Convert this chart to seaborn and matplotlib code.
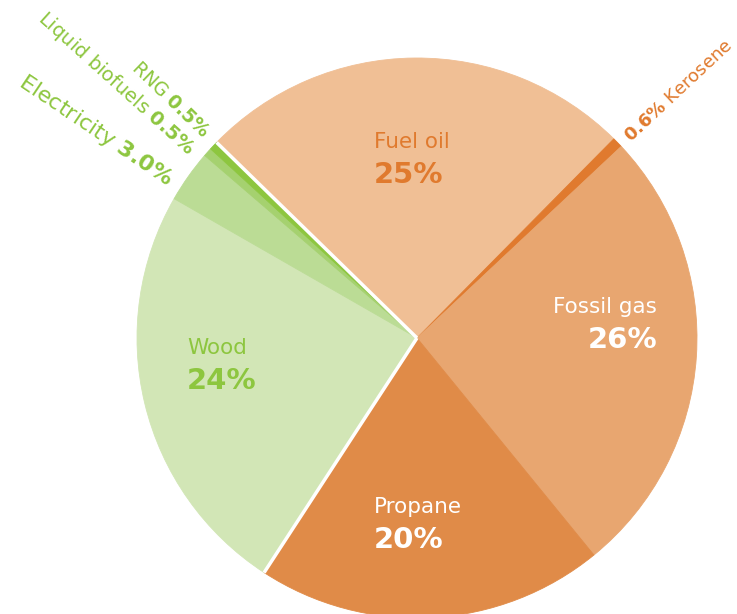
import numpy as np
import matplotlib
matplotlib.use("Agg")
import matplotlib.pyplot as plt
import seaborn as sns

sns.set_style("white")
plt.rcParams['font.family'] = ['DejaVu Sans']
plt.rcParams['mathtext.fontset'] = 'dejavusans'

# datos
fuentes = ['Fuel oil', 'Kerosene', 'Fossil gas', 'Propane', 'Wood',
           'Electricity', 'Liquid biofuels', 'RNG']
valores = [25, 0.6, 26, 20, 24, 3.0, 0.5, 0.5]
colores = ['#F0BF95', '#E07A2E', '#E8A670', '#E08B48', '#D2E6B6',
           '#BBDC95', '#A5D16F', '#8DC63F']

naranja = '#E07A2E'
verde = '#8DC63F'

W, H = 737, 614
fig = plt.figure(figsize=(W / 100, H / 100), dpi=100)
ax = fig.add_axes([0, 0, 1, 1])

cx, cy, R = 417, 338, 280  # centro y radio en pixeles
wedges, _ = ax.pie(valores, colors=colores, startangle=135.7, counterclock=False,
                   radius=1, center=(0, 0), wedgeprops={'linewidth': 0.6})
for w in wedges:
    w.set_edgecolor(w.get_facecolor())
ax.set_xlim(-cx / R, (W - cx) / R)
ax.set_ylim(-(H - cy) / R, cy / R)
ax.set_aspect('auto')
ax.axis('off')

# lineas blancas entre grupos
for ang in [wedges[0].theta2, wedges[3].theta1]:
    a = np.deg2rad(ang)
    ax.plot([0, np.cos(a)], [0, np.sin(a)], color='white', lw=2.5, solid_capstyle='butt')

def px(x, y):
    return (x - cx) / R, (cy - y) / R

# etiquetas grandes
def etiqueta(nombre, pct, x0, y0, color, ha):
    x, y = px(x0, y0)
    ax.text(x, y, nombre, color=color, fontsize=15.5, ha=ha, va='center')
    x, y = px(x0, y0 + 33)
    ax.text(x, y, pct, color=color, fontsize=21, fontweight='bold', ha=ha, va='center')

etiqueta('Fuel oil', '25%', 374, 142, naranja, 'left')
etiqueta('Fossil gas', '26%', 657, 307, 'white', 'right')
etiqueta('Propane', '20%', 374, 507, 'white', 'left')
etiqueta('Wood', '24%', 187, 348, verde, 'left')

# etiquetas radiales
def radial(txt, ang, r, rot, color, size, ha):
    a = np.deg2rad(ang)
    ax.text(r * np.cos(a), r * np.sin(a), txt, color=color, fontsize=size,
            rotation=rot, rotation_mode='anchor', ha=ha, va='center')

radial(r'$\mathbf{0.6\%}$ Kerosene', 43.5, 1.035, 43, naranja, 13, 'left')
radial(r'Electricity $\mathbf{3.0\%}$', 147.5, 1.045, -34, verde, 16, 'right')
radial(r'Liquid biofuels $\mathbf{0.5\%}$', 140.5, 1.045, -42, verde, 14, 'right')
radial(r'RNG $\mathbf{0.5\%}$', 136.0, 1.045, -44, verde, 13.5, 'right')

fig.savefig('out.png', dpi=100)
